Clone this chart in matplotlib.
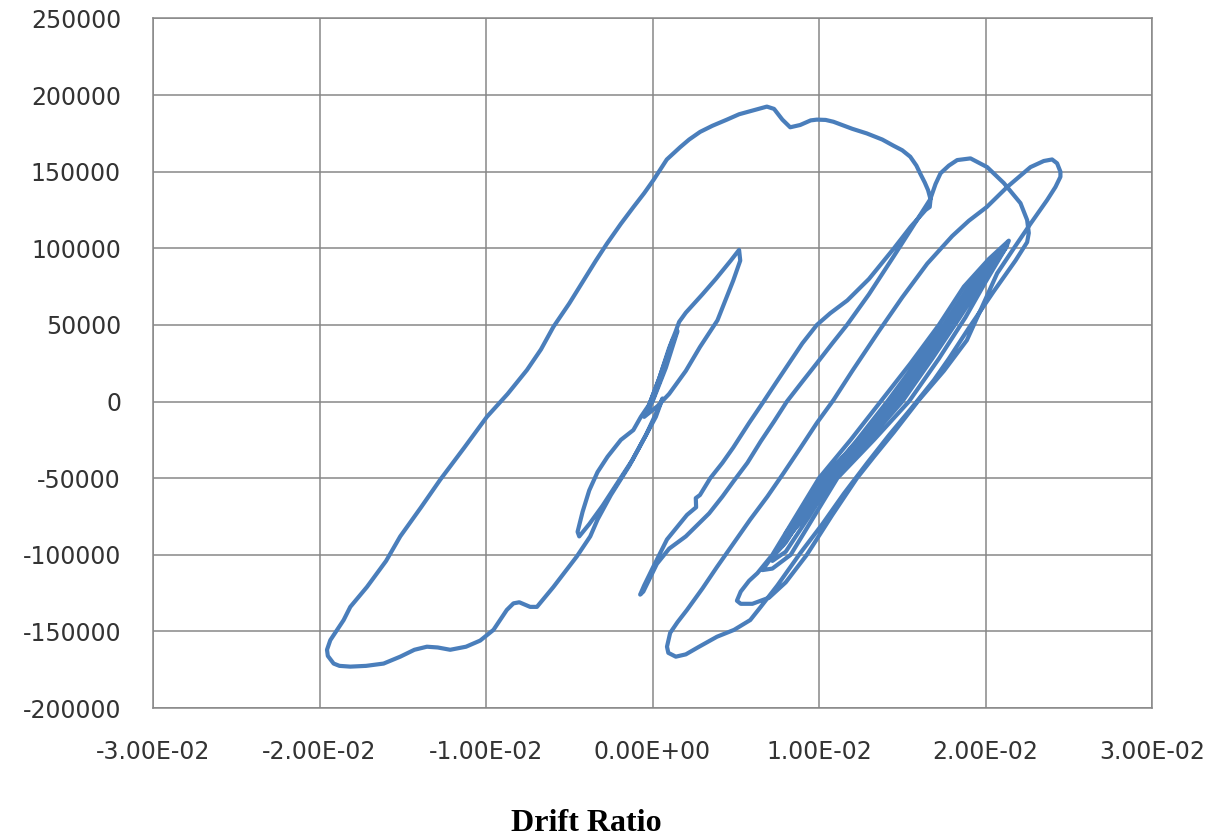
import numpy as np
import matplotlib
matplotlib.use("Agg")
import matplotlib.pyplot as plt

# Drift ratio in units of 1e-2, force in units of 1e3
origin_x = [0.0, 0.08, 0.15, 0.12, 0.04, -0.04, -0.02, 0.06, 0.14, 0.10, 0.0, -0.05]
origin_y = [0, 22, 46, 40, 15, -8, -5, 18, 44, 32, 2, -10]

loopA_x = [0.03, 0.10, 0.20, 0.285, 0.39, 0.485, 0.527, 0.52,
           0.47, 0.38, 0.30, 0.20, 0.16, 0.14, 0.10, 0.04, -0.02, -0.07, -0.115, -0.19,
           -0.27, -0.33, -0.38, -0.42, -0.45, -0.44,
           -0.38, -0.30, -0.24, -0.12, -0.04, 0.02, 0.06,
           0.02, -0.06, -0.14, -0.25, -0.33, -0.374]
loopA_y = [-3, 5, 20, 35.6, 53, 79, 92, 99,
           92, 80, 70, 58, 52, 46, 35, 15, -2, -10, -18.6, -25,
           -36, -46, -58, -72, -85, -88,
           -80, -68, -58, -38, -22, -8, 2,
           -10, -26, -42, -61, -77, -88]

big_x = [-0.454, -0.595, -0.694, -0.735, -0.80, -0.835, -0.875, -0.955, -1.035, -1.12,
         -1.215, -1.29, -1.355, -1.43, -1.515, -1.615, -1.72, -1.815, -1.88, -1.915,
         -1.95, -1.955, -1.935, -1.90, -1.855, -1.815, -1.715, -1.60, -1.515, -1.39,
         -1.275, -1.13, -0.995, -0.87, -0.754, -0.67, -0.595, -0.50, -0.414, -0.34,
         -0.274, -0.19, -0.114, -0.05, 0.006, 0.086, 0.166, 0.22, 0.286, 0.36,
         0.447, 0.52, 0.587, 0.687, 0.73, 0.78, 0.827, 0.887, 0.95, 0.987,
         1.04, 1.087, 1.20, 1.287, 1.38, 1.447, 1.50, 1.548, 1.585, 1.607,
         1.635, 1.655, 1.67, 1.665, 1.64]
big_y = [-101, -121, -134, -134, -131, -131.7, -136, -149, -156, -160,
         -162, -160.5, -160, -162, -166.5, -171, -172.5, -173, -172.5, -171,
         -166, -162, -155.7, -150, -142.6, -134, -121, -104, -88, -69,
         -51, -30, -10, 5, 20.6, 34, 48.8, 64, 79, 92,
         103, 116, 127, 136, 144.6, 158, 166, 171, 176, 180,
         184, 187.5, 189.5, 192.5, 191, 184, 179, 180.5, 183.5, 184,
         183.8, 182.6, 178, 175, 171, 167, 164, 159.8, 154, 149,
         143, 138, 132, 127, 125]

unload1_x = [1.55, 1.45, 1.30, 1.17, 1.067, 0.987, 0.90, 0.82, 0.74, 0.667, 0.58,
             0.485, 0.42, 0.347, 0.285, 0.26, 0.262, 0.207, 0.087, 0.004, -0.05,
             -0.074, -0.055]
unload1_y = [114, 100, 80, 66, 57.6, 50, 38, 25, 12, 0, -14,
             -30, -40, -50, -61, -63, -69, -74, -90, -108, -120,
             -126, -124]

loopB_x = [0.026, 0.10, 0.20, 0.34, 0.42, 0.487, 0.57, 0.65, 0.73, 0.807, 0.90, 0.987,
           1.08, 1.168, 1.30, 1.45, 1.58, 1.668, 1.70, 1.73, 1.78, 1.83, 1.91, 2.01,
           2.11, 2.21, 2.25, 2.26, 2.25,
           2.18, 2.05, 1.90, 1.78, 1.69, 1.55, 1.42, 1.29, 1.15, 1.02, 0.887, 0.75,
           0.65, 0.587, 0.49, 0.387, 0.28, 0.20, 0.14, 0.095, 0.087, 0.106]
loopB_y = [-106, -96, -88, -73, -62, -52, -40, -26, -13, 0, 13, 25,
           38, 50, 70, 95, 117, 132, 142, 149, 154, 157.6, 158.7, 153,
           142.6, 129.5, 118.5, 110, 104,
           92, 72, 48, 28, 14, -5, -22, -40, -60, -80, -99, -120,
           -134, -142.6, -149, -153.5, -160, -165, -166.5, -164, -160, -151]

loopC_x = [0.15, 0.207, 0.30, 0.387, 0.49, 0.587, 0.69, 0.787, 0.89, 0.987, 1.087,
           1.20, 1.36, 1.50, 1.65, 1.80, 1.90, 2.008, 2.13, 2.27, 2.35, 2.40, 2.43,
           2.45, 2.45, 2.42, 2.37, 2.27, 2.17, 2.07, 1.98, 1.888,
           1.75, 1.60, 1.45, 1.33, 1.228, 1.08, 0.927, 0.80, 0.70, 0.60, 0.53,
           0.507, 0.53, 0.58, 0.63]
loopC_y = [-144, -136, -122, -108, -92, -77, -62, -46.7, -30, -14, 1,
           20, 46, 68, 90, 108, 118, 127, 140, 153, 157, 158, 155.5,
           150, 146.7, 140, 131.5, 116, 100, 83.7, 62, 40,
           20, 1, -20, -36, -50, -74, -100, -118, -128, -132, -132,
           -130, -124, -117, -112]

band1_x = [0.72, 0.86, 1.00, 1.19, 1.37, 1.55, 1.72, 1.87, 2.02, 2.14,
           2.12, 2.00, 1.88, 1.72, 1.54, 1.33, 1.11, 0.97, 0.83, 0.72, 0.66]
band1_y = [-100, -75, -50, -25, 0, 25, 50, 75, 93, 105,
           100, 78, 55, 28, 0, -25, -50, -75, -100, -109, -110]
band2_x = [0.70, 0.80, 0.90, 1.04, 1.23, 1.41, 1.58, 1.75, 1.90, 2.04, 2.13,
           2.10, 1.97, 1.84, 1.68, 1.50, 1.30, 1.08, 0.94, 0.80, 0.72]
band2_y = [-104, -92, -75, -50, -25, 0, 25, 50, 75, 93, 102,
           97, 76, 54, 28, 0, -25, -50, -75, -98, -104]
band3_x = [0.74, 0.93, 1.07, 1.26, 1.44, 1.61, 1.77, 1.92, 2.05, 2.12,
           2.08, 1.95, 1.81, 1.65, 1.47, 1.27, 1.05, 0.90, 0.78]
band3_y = [-98, -72, -50, -25, 0, 25, 50, 76, 94, 100,
           94, 74, 52, 27, 0, -25, -50, -76, -94]
band4_x = [0.80, 0.96, 1.10, 1.29, 1.46, 1.63, 1.79, 1.93, 2.04,
           2.00, 1.90, 1.78, 1.62, 1.44, 1.24, 1.02, 0.88, 0.80]
band4_y = [-90, -70, -50, -25, 0, 25, 50, 75, 90,
           85, 68, 50, 26, 0, -25, -50, -74, -86]

xticks = [-0.03, -0.02, -0.01, 0.0, 0.01, 0.02, 0.03]
xtick_labels = ["-3.00E-02", "-2.00E-02", "-1.00E-02", "0.00E+00", "1.00E-02", "2.00E-02", "3.00E-02"]
yticks = [-200000, -150000, -100000, -50000, 0, 50000, 100000, 150000, 200000, 250000]

xs = (origin_x + loopA_x + big_x + unload1_x + loopB_x + loopC_x
      + band1_x + band2_x + band3_x + band4_x)
ys = (origin_y + loopA_y + big_y + unload1_y + loopB_y + loopC_y
      + band1_y + band2_y + band3_y + band4_y)
drift = np.array(xs) * 1e-2
force = np.array(ys) * 1e3

fig = plt.figure(figsize=(12.29, 8.38), dpi=100)
ax = fig.add_axes([153 / 1229, 1 - 708 / 838, (1152 - 153) / 1229, (708 - 18.5) / 838])

grid_c = "#878787"
ax.plot(drift, force, color="#4A7EBB", lw=3.0, solid_joinstyle="round",
        solid_capstyle="round", zorder=3)

ax.set_xlim(-0.03, 0.03)
ax.set_ylim(-200000, 250000)
ax.set_xticks(xticks)
ax.set_xticklabels(xtick_labels)
ax.set_yticks(yticks)
ax.set_yticklabels([str(v) for v in yticks])
ax.grid(True, color=grid_c, lw=1.1, zorder=1)
for s in ax.spines.values():
    s.set_color(grid_c)
    s.set_linewidth(1.1)
ax.tick_params(length=0, pad=23, labelsize=17, colors="#333333")
for lab in ax.get_xticklabels() + ax.get_yticklabels():
    lab.set_fontfamily("DejaVu Sans")

fig.text(586 / 1229, 1 - 831 / 838, "Drift Ratio", ha="center", va="baseline",
         fontsize=23, fontweight="bold", family="Liberation Serif", color="black")

fig.savefig("out.png", dpi=100)
